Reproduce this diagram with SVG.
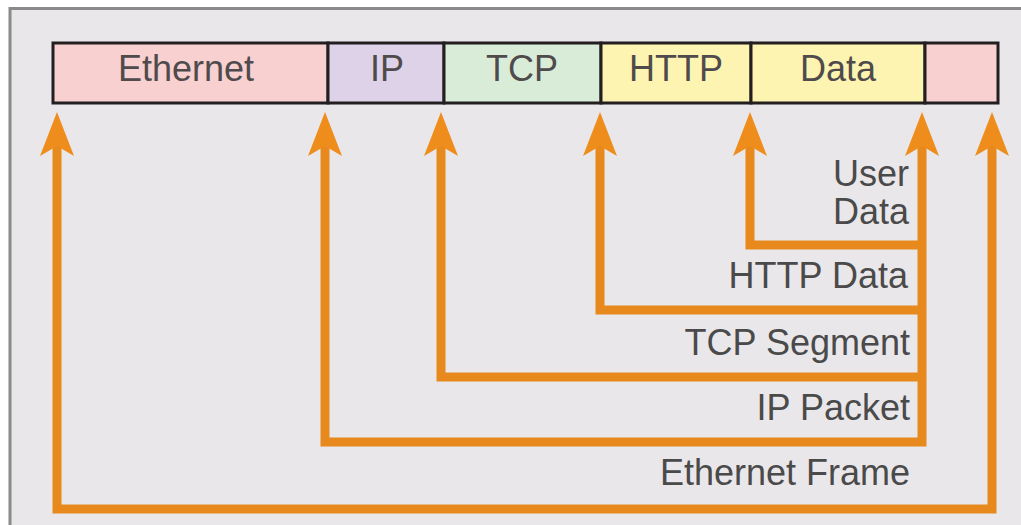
<svg xmlns="http://www.w3.org/2000/svg" width="1021" height="525" viewBox="0 0 1021 525">
  <style>
    .cell { stroke: #231f20; stroke-width: 3; }
    .hdr { font-family: "Liberation Sans", Arial, sans-serif; font-size: 36px; fill: #4f4b4c; text-anchor: middle; }
    .lbl { font-family: "Liberation Sans", Arial, sans-serif; font-size: 36px; fill: #4a4a4a; text-anchor: end; }
    .wire { fill: none; stroke: #e8891d; stroke-width: 9; stroke-linejoin: miter; }
  </style>
  <defs>
    <marker id="head" viewBox="0 0 44 34" refX="10" refY="17" markerWidth="44" markerHeight="34"
            markerUnits="userSpaceOnUse" orient="auto-start-reverse">
      <path d="M0,0 L44,17 L0,34 L10,17 Z" fill="#ee8d1c"/>
    </marker>
  </defs>

  <!-- page and panel -->
  <rect x="0" y="0" width="1021" height="525" fill="#ffffff"/>
  <rect x="10" y="8.5" width="1030" height="530" fill="#e9e7e9" stroke="#8a8a8a" stroke-width="3"/>

  <!-- frame header cells -->
  <g id="ethernet-header">
    <rect class="cell" x="53" y="43" width="275" height="60" fill="#f8d0d0"/>
    <text class="hdr" x="186" y="81">Ethernet</text>
  </g>
  <g id="ip-header">
    <rect class="cell" x="328" y="43" width="116" height="60" fill="#ddd2e8"/>
    <text class="hdr" x="387" y="81">IP</text>
  </g>
  <g id="tcp-header">
    <rect class="cell" x="444" y="43" width="157" height="60" fill="#d9ecd8"/>
    <text class="hdr" x="522" y="81">TCP</text>
  </g>
  <g id="http-header">
    <rect class="cell" x="601" y="43" width="150" height="60" fill="#fdf4b2"/>
    <text class="hdr" x="676" y="81">HTTP</text>
  </g>
  <g id="data">
    <rect class="cell" x="751" y="43" width="174" height="60" fill="#fdf4b2"/>
    <text class="hdr" x="838" y="81">Data</text>
  </g>
  <g id="ethernet-trailer">
    <rect class="cell" x="925" y="43" width="73" height="60" fill="#f8d0d0"/>
  </g>

  <!-- encapsulation brackets -->
  <g id="connectors">
    <path class="wire" d="M57,146 V509 H992 V146" marker-start="url(#head)" marker-end="url(#head)"/>
    <path class="wire" d="M325,146 V442 H922 V146" marker-start="url(#head)" marker-end="url(#head)"/>
    <path class="wire" d="M441,146 V377 H922" marker-start="url(#head)"/>
    <path class="wire" d="M600,146 V310 H922" marker-start="url(#head)"/>
    <path class="wire" d="M750,146 V245 H922" marker-start="url(#head)"/>
  </g>

  <!-- unit labels -->
  <g id="user-data">
    <text class="lbl" x="909" y="186">User</text>
    <text class="lbl" x="909" y="224">Data</text>
  </g>
  <g id="http-data">
    <text class="lbl" x="908" y="288">HTTP Data</text>
  </g>
  <g id="tcp-segment">
    <text class="lbl" x="910" y="355">TCP Segment</text>
  </g>
  <g id="ip-packet">
    <text class="lbl" x="910" y="420">IP Packet</text>
  </g>
  <g id="ethernet-frame">
    <text class="lbl" x="910" y="485">Ethernet Frame</text>
  </g>
</svg>
